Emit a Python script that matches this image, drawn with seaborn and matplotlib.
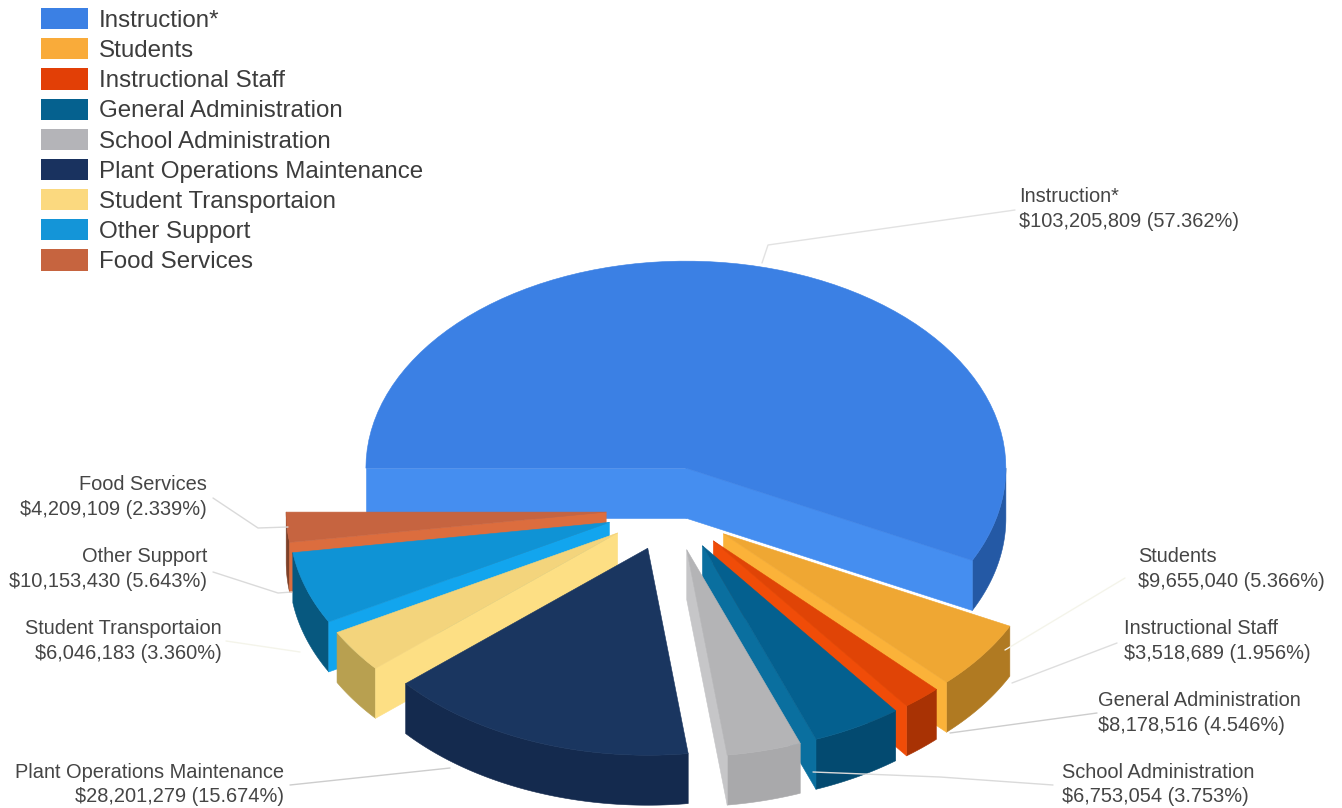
import numpy as np
import matplotlib
matplotlib.use("Agg")
import matplotlib.pyplot as plt
from matplotlib.patches import Patch
import seaborn as sns

# Spending by function
categories = ["Instruction*", "Students", "Instructional Staff", "General Administration",
              "School Administration", "Plant Operations Maintenance", "Student Transportaion",
              "Other Support", "Food Services"]
amounts = [103205809, 9655040, 3518689, 8178516, 6753054, 28201279, 6046183, 10153430, 4209109]

# Shades per slice: legend/top face, cut wall, outer rim
top_hex = ["#3b80e4", "#efa733", "#e04406", "#04608f", "#b4b4b6", "#1a3660", "#f3d47c", "#0f93d5", "#c66440"]
key_hex = ["#3b80e4", "#f9ab3a", "#e23f06", "#05618f", "#b4b4b8", "#19325f", "#fbd97f", "#1495d8", "#c6643f"]
wall_hex = ["#458ef0", "#fbb239", "#f04c08", "#0a6f9f", "#c6c6c8", "#1a3660", "#fddf84", "#12a5ee", "#dc6d3e"]
rim_hex = ["#2459a5", "#b07a22", "#a83204", "#034a70", "#a9a9ab", "#142a4e", "#b8a050", "#07587f", "#7e4028"]

# Pie layout in pixels
CX, CY = 671, 509
RX, RY = 320, 207
EXPLODE_X, EXPLODE_Y = 65, 42
DEPTH = 50
FIRST_ANGLE = 180.0

# Label blocks: anchor x, first-line y, alignment
label_x = [1019, 1138, 1124, 1098, 1062, 284, 222, 207, 207]
label_y = [197, 557, 629, 701, 772, 772, 629, 557, 485]
label_ha = ["left", "left", "left", "left", "left", "right", "right", "right", "right"]
LINE_GAP = 24.5

# Leader polylines
leaders = [
    ([762, 768, 1015], [263, 245, 210], "#e2e2e2"),
    ([1005, 1125], [650, 578], "#f4f4ea"),
    ([1012, 1117], [683, 643], "#dedede"),
    ([950, 1097], [733, 713], "#cdcdcd"),
    ([813, 940, 1053], [772, 777, 785], "#dadada"),
    ([290, 450], [785, 768], "#cdcdcd"),
    ([226, 300], [641, 652], "#f4f4ea"),
    ([213, 278, 292], [572, 593, 592], "#dadada"),
    ([213, 258, 288], [498, 528, 527], "#dadada"),
]

sns.set_theme(style="white")
plt.rcParams["font.family"] = ["Liberation Sans", "DejaVu Sans"]
top_colors = sns.color_palette(top_hex)
key_colors = sns.color_palette(key_hex)
wall_colors = sns.color_palette(wall_hex)
rim_colors = sns.color_palette(rim_hex)

fig = plt.figure(figsize=(13.42, 8.08), dpi=100)
ax = fig.add_axes([0, 0, 1, 1])
ax.set_xlim(0, 1342)
ax.set_ylim(808, 0)
ax.axis("off")

values = np.array(amounts, dtype=float)
shares = values / values.sum()
sweeps = shares * 360.0
starts = FIRST_ANGLE - np.concatenate(([0.0], np.cumsum(sweeps)[:-1]))
ends = starts - sweeps
mids = (starts + ends) / 2


def rim_point(apex, deg):
    t = np.radians(deg)
    return apex[0] + RX * np.cos(t), apex[1] - RY * np.sin(t)


def arc(apex, a_from, a_to, n=80):
    t = np.radians(np.linspace(a_from, a_to, n))
    return apex[0] + RX * np.cos(t), apex[1] - RY * np.sin(t)


def paint(xs, ys, color):
    ax.fill(xs, ys, color=color, linewidth=0.4, joinstyle="round")


def draw_slice(i):
    t = np.radians(mids[i])
    apex = (CX + EXPLODE_X * np.cos(t), CY - EXPLODE_Y * np.sin(t))
    a0, a1 = starts[i], ends[i]

    # Outer rim, only where it faces the viewer
    lo, hi = max(a1, -180.0), min(a0, 0.0)
    if hi > lo:
        ax_x, ax_y = arc(apex, hi, lo)
        paint(np.r_[ax_x, ax_x[::-1]], np.r_[ax_y, ax_y[::-1] + DEPTH], rim_colors[i])

    # Radial cut walls, each with its outward normal pointing at the viewer
    for edge, normal in ((a0, a0 + 90), (a1, a1 - 90)):
        if np.sin(np.radians(normal)) < -1e-6:
            px, py = rim_point(apex, edge)
            paint([apex[0], px, px, apex[0]],
                  [apex[1], py, py + DEPTH, apex[1] + DEPTH], wall_colors[i])

    # Top face
    ax_x, ax_y = arc(apex, a0, a1)
    paint(np.r_[apex[0], ax_x], np.r_[apex[1], ax_y], top_colors[i])


# Back-to-front so nearer slices cover farther ones
for i in sorted(range(len(amounts)), key=lambda k: -np.sin(np.radians(mids[k]))):
    draw_slice(i)

for xs, ys, col in leaders:
    ax.plot(xs, ys, color=col, linewidth=1.0, solid_capstyle="round")

for i, name in enumerate(categories):
    ax.text(label_x[i], label_y[i], name, ha=label_ha[i], va="center",
            fontsize=14.45, color="#454545")
    ax.text(label_x[i], label_y[i] + LINE_GAP, f"${amounts[i]:,} ({shares[i] * 100:.3f}%)",
            ha=label_ha[i], va="center", fontsize=14.45, color="#454545")

LEGEND_PT = 17.4
px = LEGEND_PT * 100 / 72
handles = [Patch(facecolor=c, edgecolor="none", label=n) for c, n in zip(key_colors, categories)]
ax.legend(handles=handles, loc="upper left", bbox_to_anchor=(41 / 1342, 1 - 8 / 808),
          borderaxespad=0, borderpad=0, frameon=False, fontsize=LEGEND_PT,
          handlelength=47 / px, handleheight=0.97, handletextpad=11 / px,
          labelspacing=6.3 / px, labelcolor="#3c3c3c")

fig.savefig("out.png", dpi=100, facecolor="white")
